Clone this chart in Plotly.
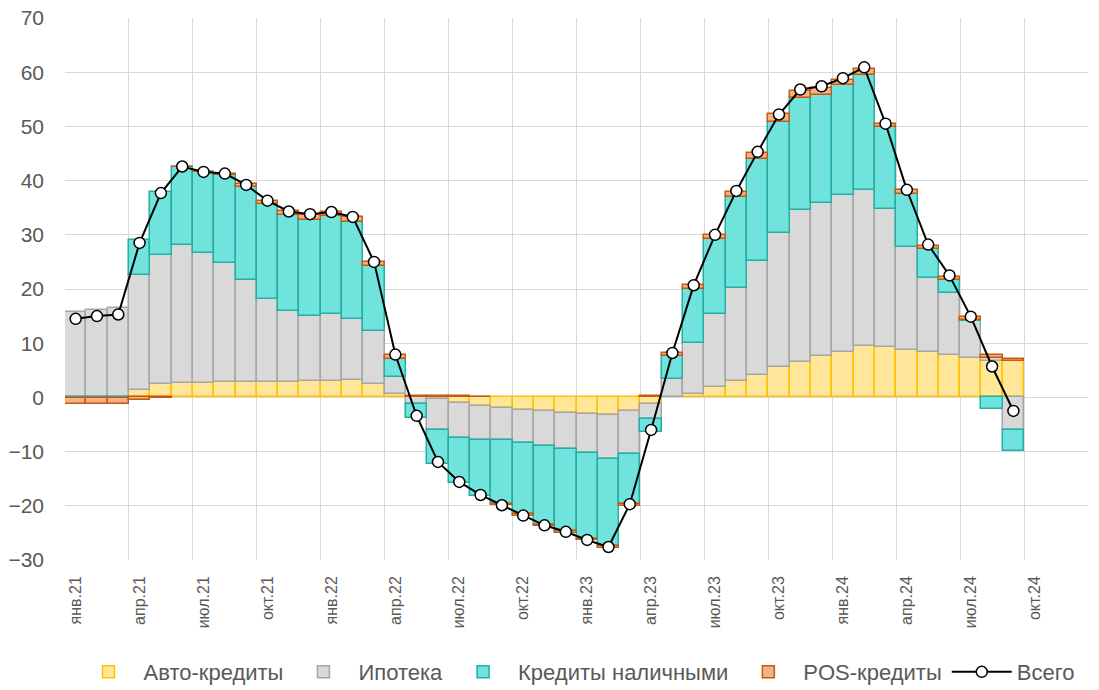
import plotly.graph_objects as go

months = ["янв.21","фев.21","мар.21","апр.21","май.21","июн.21","июл.21","авг.21","сен.21","окт.21","ноя.21","дек.21",
          "янв.22","фев.22","мар.22","апр.22","май.22","июн.22","июл.22","авг.22","сен.22","окт.22","ноя.22","дек.22",
          "янв.23","фев.23","мар.23","апр.23","май.23","июн.23","июл.23","авг.23","сен.23","окт.23","ноя.23","дек.23",
          "янв.24","фев.24","мар.24","апр.24","май.24","июн.24","июл.24","авг.24","сен.24"]

auto = [0.1, 0.1, 0.1, 1.4, 2.5, 2.7, 2.7, 2.8, 2.8, 2.8, 2.8, 3.1,
        3.1, 3.3, 2.4, 0.7, 0.1, -0.3, -1.0, -1.5, -1.9, -2.4, -2.5, -2.9,
        -3.0, -3.3, -2.5, -1.2, 0.0, 0.7, 2.0, 3.1, 4.2, 5.6, 6.6, 7.7,
        8.4, 9.5, 9.3, 8.7, 8.4, 7.9, 7.2, 6.8, 6.8]
mortgage = [15.6, 16.1, 16.4, 21.1, 23.7, 25.5, 23.9, 22.0, 18.8, 15.3, 13.1, 12.0,
            12.2, 11.2, 9.8, 3.0, -1.2, -5.8, -6.4, -6.4, -6.0, -6.0, -6.4, -6.6,
            -7.3, -8.1, -7.9, -2.7, 3.4, 9.4, 13.4, 17.1, 20.9, 24.7, 27.9, 28.2,
            28.9, 28.8, 25.5, 19.0, 13.7, 11.3, 6.9, 0.4, -6.1]
cash = [-0.2, -0.2, -0.2, 6.5, 11.7, 14.4, 14.9, 16.2, 17.2, 17.6, 17.7, 17.7,
        18.2, 17.8, 12.0, 3.4, -2.6, -6.1, -8.4, -10.2, -11.8, -13.2, -14.7, -15.2,
        -15.8, -16.0, -9.3, -2.4, 4.3, 9.9, 13.9, 16.8, 18.8, 20.5, 20.8, 19.9,
        20.3, 21.1, 15.1, 9.8, 5.3, 2.5, 0.2, -2.2, -3.7]
pos = [-1.0, -1.0, -1.0, -0.4, -0.2, 0.0, 0.1, 0.3, 0.6, 0.6, 0.7, 0.9,
       0.7, 1.0, 0.8, 0.8, 0.2, 0.3, 0.2, 0.1, -0.2, -0.3, -0.2, -0.3,
       -0.3, -0.3, -0.3, 0.2, 0.5, 0.7, 0.7, 0.9, 1.2, 1.4, 1.3, 1.3,
       1.0, 1.2, 0.6, 0.7, 0.6, 0.6, 0.6, 0.6, 0.3]
total = [14.5, 15.0, 15.3, 28.5, 37.7, 42.6, 41.6, 41.3, 39.2, 36.3, 34.3, 33.8,
         34.2, 33.3, 25.0, 7.9, -3.4, -11.9, -15.6, -18.0, -19.9, -21.8, -23.6, -24.8,
         -26.3, -27.6, -19.7, -6.0, 8.2, 20.7, 30.0, 38.1, 45.3, 52.2, 56.8, 57.4,
         58.9, 60.9, 50.5, 38.3, 28.2, 22.5, 14.9, 5.7, -2.5]

tick_labels = ["янв.21","апр.21","июл.21","окт.21","янв.22","апр.22","июл.22","окт.22",
               "янв.23","апр.23","июл.23","окт.23","янв.24","апр.24","июл.24","окт.24"]

x = list(range(len(months)))
tick_pos = [3 * i for i in range(len(tick_labels))]

FONT = "Liberation Sans"
TXT = "#595959"

fig = go.Figure()
series = [
    ("Авто-кредиты", auto, "#FFE699", "#FFC000"),
    ("Ипотека", mortgage, "#D9D9D9", "#A6A6A6"),
    ("Кредиты наличными", cash, "#70E4DC", "#22B0A4"),
    ("POS-кредиты", pos, "#F4B183", "#C55A11"),
]
for name, vals, fill, edge in series:
    fig.add_trace(go.Bar(x=x, y=vals, name=name, marker=dict(color=fill, line=dict(color=edge, width=1.5)),
                         hovertext=months))
fig.add_trace(go.Scatter(x=x, y=total, name="Всего", mode="lines+markers",
                         line=dict(color="black", width=2),
                         marker=dict(symbol="circle", size=11, color="white", line=dict(color="black", width=1.5)),
                         hovertext=months))

fig.update_layout(
    width=1099, height=690,
    barmode="relative", bargap=0,
    plot_bgcolor="white", paper_bgcolor="white",
    margin=dict(l=65, r=11, t=18, b=130, autoexpand=False),
    font=dict(family=FONT, color=TXT),
    legend=dict(orientation="h", x=0.5, xanchor="center", y=-0.168, yanchor="top",
                font=dict(size=22, color=TXT, family=FONT), itemwidth=60, traceorder="normal"),
    showlegend=True,
)
fig.update_xaxes(
    range=[-0.5, 47.5], tickmode="array", tickvals=tick_pos, ticktext=tick_labels,
    tickangle=-90, tickfont=dict(size=16, color=TXT, family=FONT), ticks="",
    showgrid=False, zeroline=False, showline=False, ticklabelstandoff=12,
    minor=dict(tick0=-0.5, dtick=3, showgrid=True, gridcolor="#D9D9D9", gridwidth=1.3, ticks=""),
)
fig.update_yaxes(
    range=[-30, 70], dtick=10, tickfont=dict(size=21, color=TXT, family=FONT),
    showgrid=True, gridcolor="#D9D9D9", gridwidth=1.3, zeroline=True, zerolinecolor="#D9D9D9", zerolinewidth=1.3,
    ticks="", ticklabelstandoff=20, showline=False, ticklabeloverflow="allow",
)
fig.write_html("out.html", config={"displayModeBar": False},
               post_script="document.body.style.margin='0px';document.body.style.overflow='hidden';")
